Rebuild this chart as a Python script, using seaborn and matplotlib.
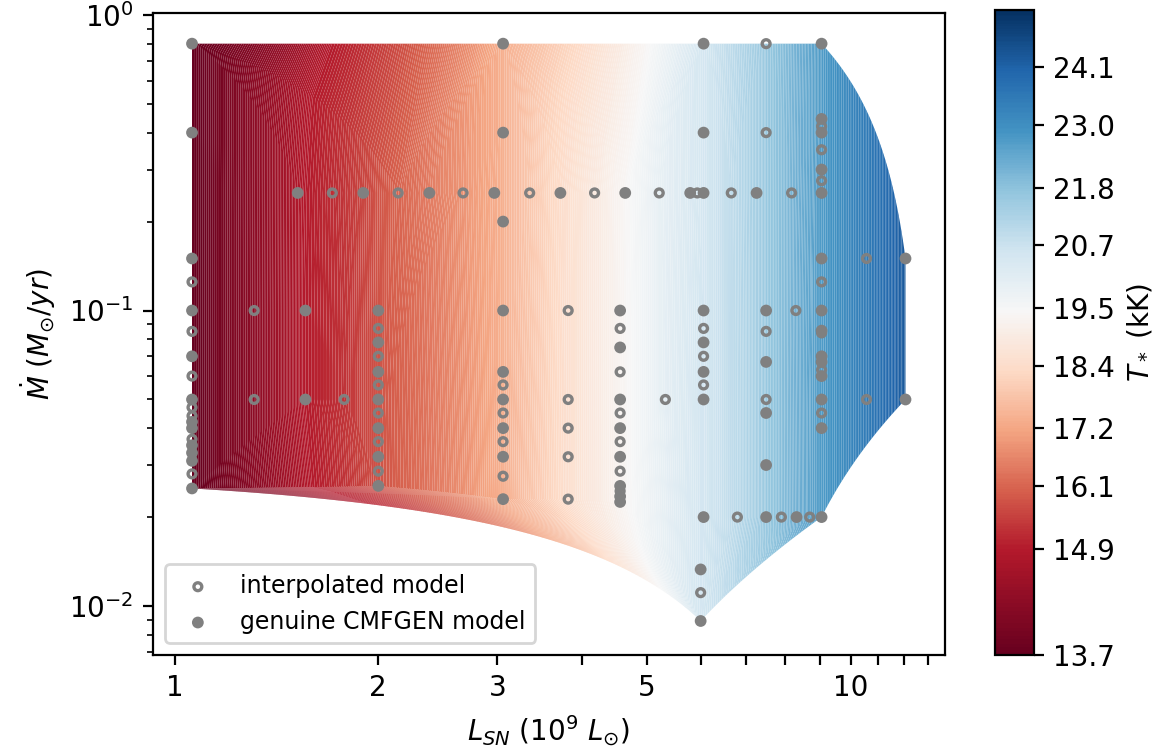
import numpy as np
import pandas as pd
import matplotlib
matplotlib.use("Agg")
import matplotlib.pyplot as plt
import matplotlib.tri as mtri
from matplotlib.ticker import FixedLocator, FixedFormatter, NullLocator, FormatStrFormatter
import seaborn as sns

# Photospheric temperature T* (kK) of the models on each luminosity column (1e9 Lsun)
column_L = [1.06, 1.31, 1.52, 1.56, 1.71, 1.78, 1.90, 2.00, 2.14, 2.38, 2.67, 2.97,
            3.06, 3.35, 3.72, 3.82, 4.18, 4.56, 4.64, 5.21, 5.32, 5.79, 5.93, 6.00,
            6.06, 6.66, 6.80, 7.26, 7.50, 7.90, 8.18, 8.30, 8.32, 8.70, 9.06, 10.56, 12.06]
column_T = [13.7, 14.3, 14.8, 14.9, 15.2, 15.3, 15.6, 15.8, 16.1, 16.5, 16.9, 17.3,
            17.4, 17.9, 18.4, 18.5, 18.9, 19.3, 19.4, 19.9, 20.0, 20.3, 20.4, 20.5,
            20.5, 20.9, 21.0, 21.4, 21.6, 21.9, 22.1, 22.2, 22.2, 22.5, 22.7, 23.5, 24.3]

# Genuine CMFGEN models: luminosity and mass-loss rate (Msun/yr)
genuine_L = ([1.06] * 12 + [1.52, 1.56, 1.56, 1.90] + [2.00] * 7 + [2.38, 2.97] +
             [3.06] * 9 + [3.72] + [4.56] * 8 + [4.64, 5.79, 6.00, 6.00] + [6.06] * 8 +
             [7.26] + [7.50] * 5 + [8.32] + [9.06] * 14 + [12.06, 12.06])
genuine_Mdot = ([0.8, 0.4, 0.15, 0.1, 0.07, 0.05, 0.042, 0.04, 0.035, 0.033, 0.031, 0.025] +
                [0.25, 0.1, 0.05, 0.25] +
                [0.1, 0.078, 0.062, 0.05, 0.04, 0.032, 0.0255] +
                [0.25, 0.25] +
                [0.8, 0.4, 0.2, 0.1, 0.062, 0.05, 0.04, 0.032, 0.023] +
                [0.25] +
                [0.1, 0.075, 0.05, 0.04, 0.032, 0.0255, 0.0235, 0.0225] +
                [0.25, 0.25, 0.0133, 0.0089] +
                [0.8, 0.4, 0.25, 0.1, 0.078, 0.062, 0.05, 0.02] +
                [0.25] +
                [0.1, 0.067, 0.045, 0.03, 0.02] +
                [0.02] +
                [0.8, 0.445, 0.4, 0.3, 0.25, 0.15, 0.1, 0.0855, 0.07, 0.067, 0.06, 0.05, 0.04, 0.02] +
                [0.15, 0.05])

# Interpolated models
interp_L = ([1.06] * 7 + [1.31, 1.31, 1.71, 1.78] + [2.00] * 6 + [2.14, 2.67] +
            [3.06] * 4 + [3.35] + [3.82] * 5 + [4.18] + [4.56] * 6 + [5.21, 5.32, 5.93, 6.00] +
            [6.06] * 3 + [6.66, 6.80] + [7.50] * 4 + [7.90, 8.18, 8.30, 8.70] + [9.06] * 7 +
            [10.56, 10.56])
interp_Mdot = ([0.125, 0.085, 0.06, 0.047, 0.044, 0.0367, 0.028] +
               [0.1, 0.05, 0.25, 0.05] +
               [0.087, 0.07, 0.056, 0.045, 0.036, 0.0286] +
               [0.25, 0.25] +
               [0.056, 0.045, 0.036, 0.0275] +
               [0.25] +
               [0.1, 0.05, 0.04, 0.032, 0.023] +
               [0.25] +
               [0.087, 0.062, 0.045, 0.036, 0.0286, 0.0245] +
               [0.25, 0.05, 0.25, 0.0111] +
               [0.087, 0.07, 0.056] +
               [0.25, 0.02] +
               [0.8, 0.4, 0.085, 0.05] +
               [0.02, 0.25, 0.1, 0.02] +
               [0.42, 0.35, 0.275, 0.125, 0.084, 0.063, 0.045] +
               [0.15, 0.05])

cbar_ticks = [13.7, 14.9, 16.1, 17.2, 18.4, 19.5, 20.7, 21.8, 23.0, 24.1]
x_ticks = list(range(1, 14))
x_ticklabels = ["1", "2", "3", "", "5", "", "", "", "", "10", "", "", ""]

T_of = dict(zip(column_L, column_T))
models = pd.concat([
    pd.DataFrame({"L": interp_L, "Mdot": interp_Mdot, "kind": "interpolated"}),
    pd.DataFrame({"L": genuine_L, "Mdot": genuine_Mdot, "kind": "genuine"}),
], ignore_index=True)
models["T"] = models["L"].map(T_of)
grid = models.drop_duplicates(subset=["L", "Mdot"])

plt.rcParams.update({"font.size": 10, "font.family": "DejaVu Sans"})
fig = plt.figure(figsize=(1167 / 200, 755 / 200), dpi=200)
ax = fig.add_axes([0.1311, 0.1325, 0.6787, 0.8503])
cax = fig.add_axes([0.8526, 0.1325, 0.0334, 0.8543])

# Temperature field, triangulated in linear (L, Mdot) space
tri = mtri.Triangulation(grid["L"].to_numpy(), grid["Mdot"].to_numpy())
levels = np.concatenate([np.linspace(13.7, 14.9, 67), np.linspace(14.9, 25.2, 335)[1:]])
cs = ax.tricontourf(tri, grid["T"].to_numpy(), levels=levels, cmap="RdBu",
                    antialiased=True, zorder=1)

interp = models[models["kind"] == "interpolated"]
genu = models[models["kind"] == "genuine"]
sns.scatterplot(x=interp["L"], y=interp["Mdot"], ax=ax, marker="o", s=8,
                facecolor="none", edgecolor="grey",
                label="interpolated model", zorder=3)
ax.collections[-1].set_linewidth(1.2)
ax.collections[-1].set_facecolor("none")
sns.scatterplot(x=genu["L"], y=genu["Mdot"], ax=ax, marker="o", s=18,
                color="grey", edgecolor="none",
                label="genuine CMFGEN model", zorder=3)
ax.collections[-1].set_linewidth(0)

ax.set_xscale("log")
ax.set_yscale("log")
ax.set_xlim(0.928, 13.8)
ax.set_ylim(0.00683, 1.016)
ax.xaxis.set_major_locator(FixedLocator(x_ticks))
ax.xaxis.set_major_formatter(FixedFormatter(x_ticklabels))
ax.xaxis.set_minor_locator(NullLocator())
ax.set_xlabel(r"$L_{SN}$ ($10^9$ $L_{\odot}$)")
ax.set_ylabel(r"$\dot{M}$ ($M_{\odot}/yr$)")
ax.legend(loc="lower left", fontsize=8.5)

cbar = fig.colorbar(cs, cax=cax, ticks=cbar_ticks)
cbar.ax.yaxis.set_major_formatter(FormatStrFormatter("%.1f"))
cbar.set_label(r"$T_*$ (kK)")

fig.savefig("out.png", dpi=200)
